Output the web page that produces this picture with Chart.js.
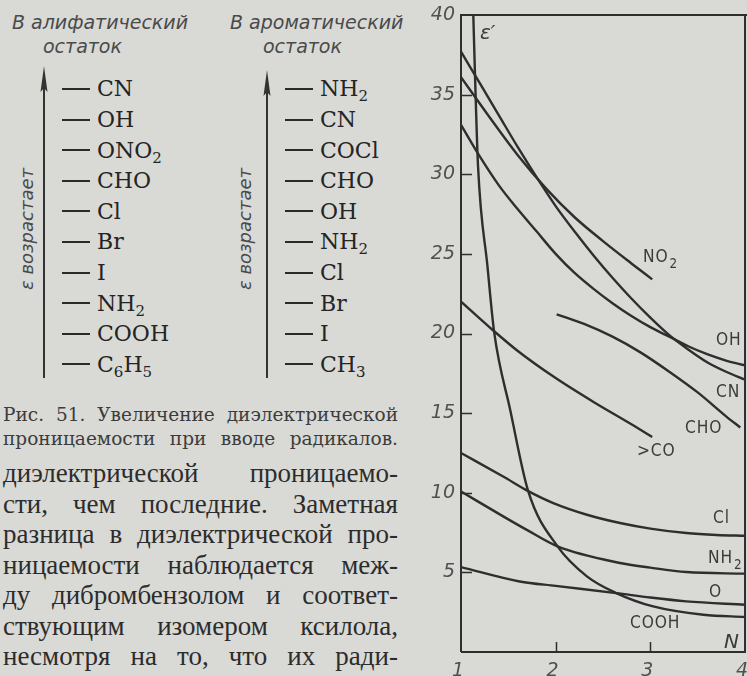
<!DOCTYPE html>
<html>
<head>
<meta charset="utf-8">
<script src="https://cdn.jsdelivr.net/npm/chart.js@4/dist/chart.umd.min.js"></script>
<style>
  html, body { margin: 0; padding: 0; background: #d9d9d5; }
  body { width: 747px; height: 676px; position: relative; overflow: hidden; }
  .hdr { position: absolute; font-family: 'DejaVu Sans', sans-serif; font-style: italic;
         font-size: 19px; line-height: 20px; color: #4a4a4a; white-space: nowrap; }
  .rot { position: absolute; width: 150px; height: 20px; text-align: center;
         font-family: 'DejaVu Sans', sans-serif; font-style: italic; font-size: 18px;
         line-height: 20px; color: #4a4a4a; transform: rotate(-90deg); white-space: nowrap; }
  .item { position: absolute; font-family: 'DejaVu Serif', serif; font-size: 22px;
          line-height: 22px; color: #242424; white-space: nowrap; }
  .item .s { font-size: 15px; position: relative; top: 5px; }
  .dash { position: absolute; width: 28px; height: 2px; background: #2a2a2a; }
  .cap { position: absolute; left: 3px; width: 395px; font-family: 'DejaVu Serif', serif;
         font-size: 18.5px; line-height: 24px; color: #3c3c3c; text-align: justify; text-align-last: justify; }
  .txt { position: absolute; left: 3px; width: 395px; font-family: 'Liberation Serif', serif;
         font-size: 27px; line-height: 30px; color: #2c2c2c; text-align: justify; text-align-last: justify; }
  #plot { position: absolute; left: 420px; top: 0; }
</style>
</head>
<body>

<!-- substituent series, aliphatic and aromatic -->
<div class="hdr" style="left:12px;top:12px">В алифатический</div>
<div class="hdr" style="left:43px;top:36px">остаток</div>
<div class="hdr" style="left:230px;top:12px">В ароматический</div>
<div class="hdr" style="left:263px;top:36px">остаток</div>

<svg style="position:absolute;left:0;top:0" width="420" height="400">
  <line x1="44" y1="84" x2="44" y2="378" stroke="#333" stroke-width="2"/>
  <path d="M44 66 L40.5 92 L44 88 L47.5 92 Z" fill="#333"/>
  <line x1="267" y1="88" x2="267" y2="378" stroke="#333" stroke-width="2"/>
  <path d="M267 70 L263.5 96 L267 92 L270.5 96 Z" fill="#333"/>
</svg>

<div class="rot" style="left:-48px;top:219px">ε возрастает</div>
<div class="rot" style="left:170px;top:219px">ε возрастает</div>

<div id="listL"></div>
<div id="listR"></div>

<div class="cap" style="top:403px">Рис. 51. Увеличение диэлектрической</div>
<div class="cap" style="top:427px">проницаемости при вводе радикалов.</div>

<div class="txt" style="top:458px">диэлектрической проницаемо-</div>
<div class="txt" style="top:488.5px">сти, чем последние. Заметная</div>
<div class="txt" style="top:519px">разница в диэлектрической про-</div>
<div class="txt" style="top:549.5px">ницаемости наблюдается меж-</div>
<div class="txt" style="top:580px">ду дибромбензолом и соответ-</div>
<div class="txt" style="top:610.5px">ствующим изомером ксилола,</div>
<div class="txt" style="top:641px">несмотря на то, что их ради-</div>

<canvas id="plot" width="340" height="676"></canvas>

<script>
// ---- substituent lists (strongest effect at the top) ----
const aliphaticGroups = ['CN', 'OH', 'ONO<span class="s">2</span>', 'CHO', 'Cl', 'Br', 'I',
                         'NH<span class="s">2</span>', 'COOH', 'C<span class="s">6</span>H<span class="s">5</span>'];
const aromaticGroups = ['NH<span class="s">2</span>', 'CN', 'COCl', 'CHO', 'OH',
                        'NH<span class="s">2</span>', 'Cl', 'Br', 'I', 'CH<span class="s">3</span>'];

function buildList(host, groups, dashLeft, textLeft) {
  const el = document.getElementById(host);
  groups.forEach((g, i) => {
    const base = 97 + i * 30.6;
    const d = document.createElement('div');
    d.className = 'dash';
    d.style.left = dashLeft + 'px';
    d.style.top = (base - 9) + 'px';
    el.appendChild(d);
    const t = document.createElement('div');
    t.className = 'item';
    t.style.left = textLeft + 'px';
    t.style.top = (base - 18.6) + 'px';
    t.innerHTML = g;
    el.appendChild(t);
  });
}
buildList('listL', aliphaticGroups, 62, 97);
buildList('listR', aromaticGroups, 285, 320);

// ---- dielectric constant ε' against N ----
const xTicks = [1, 2, 3, 4];
const yTicks = [5, 10, 15, 20, 25, 30, 35, 40];

const no2X  = [1.0, 1.3, 1.6, 1.9, 2.2, 2.5, 2.8, 3.02];
const no2Y  = [36.1, 33.6, 31.2, 29.1, 27.3, 25.8, 24.4, 23.4];

const cnX   = [1.0, 1.2, 1.4, 1.6, 1.8, 2.0, 2.2, 2.4, 2.6, 2.8, 3.0, 3.2, 3.4, 3.6, 3.8, 4.0];
const cnY   = [37.7, 35.7, 33.7, 31.7, 29.8, 28.0, 26.4, 24.9, 23.5, 22.2, 21.0, 19.9, 19.0, 18.2, 17.6, 17.1];

const ohX   = [1.0, 1.2, 1.4, 1.6, 1.8, 2.0, 2.2, 2.4, 2.6, 2.8, 3.0, 3.2, 3.4, 3.6, 3.8, 4.0];
const ohY   = [33.1, 31.1, 29.3, 27.8, 26.4, 25.0, 23.8, 22.8, 21.9, 21.1, 20.4, 19.8, 19.2, 18.7, 18.3, 18.0];

const choX  = [2.01, 2.3, 2.6, 2.9, 3.2, 3.5, 3.8, 3.95];
const choY  = [21.2, 20.6, 19.8, 18.8, 17.6, 16.3, 14.8, 14.1];

const coX   = [1.0, 1.3, 1.6, 2.0, 2.4, 2.8, 3.02];
const coY   = [22.0, 20.4, 18.9, 17.2, 15.7, 14.3, 13.5];

const clX   = [1.0, 1.45, 1.71, 1.975, 2.33, 2.68, 3.0, 3.38, 3.7, 4.0];
const clY   = [12.5, 11.0, 10.1, 9.35, 8.62, 8.1, 7.75, 7.47, 7.35, 7.3];

const nh2X  = [1.0, 1.45, 1.7, 2.02, 2.68, 3.0, 3.38, 4.0];
const nh2Y  = [10.08, 8.5, 7.65, 6.63, 5.59, 5.3, 5.02, 4.92];

const oX    = [1.0, 1.62, 2.0, 2.64, 3.0, 3.38, 4.0];
const oY    = [5.33, 4.43, 4.15, 3.7, 3.42, 3.18, 2.97];

const coohX = [1.13, 1.15, 1.18, 1.28, 1.35, 1.52, 1.71, 2.02, 2.33, 2.64, 3.03, 3.56, 4.0];
const coohY = [40, 35.8, 30.5, 24.2, 20.1, 15.2, 10.1, 6.63, 4.75, 3.7, 2.86, 2.34, 2.2];

const series = [
  ['NO2', no2X, no2Y], ['CN', cnX, cnY], ['OH', ohX, ohY], ['CHO', choX, choY],
  ['>CO', coX, coY], ['Cl', clX, clY], ['NH2', nh2X, nh2Y], ['O', oX, oY], ['COOH', coohX, coohY]
];

// curve labels, anchored in data units (left edge, baseline)
const curveLabels = [
  { text: 'NO', sub: '2', x: 2.922, y: 24.49 },
  { text: 'OH',           x: 3.694, y: 19.28 },
  { text: 'CN',           x: 3.694, y: 16.01 },
  { text: 'CHO',          x: 3.366, y: 13.75 },
  { text: '>CO',          x: 2.859, y: 12.31 },
  { text: 'Cl',           x: 3.662, y: 8.10 },
  { text: 'NH', sub: '2', x: 3.609, y: 5.59 },
  { text: 'O',            x: 3.620, y: 3.45 },
  { text: 'COOH',         x: 2.785, y: 1.51 }
];
const axisLabels = [
  { text: 'ε\u2032', x: 1.20, y: 38.5 },
  { text: 'N',       x: 3.778, y: 0.25 }
];

const INK = '#2e2e2e';
const LABEL_INK = '#3b3b3b';

function squeezedText(ctx, str, px, py, size, squeeze) {
  ctx.save();
  ctx.translate(px, py);
  ctx.scale(squeeze, 1);
  ctx.font = size + 'px "DejaVu Sans", sans-serif';
  ctx.letterSpacing = '1px';
  ctx.fillText(str, 0, 0);
  const w = ctx.measureText(str).width * squeeze;
  ctx.restore();
  return w;
}

const decor = {
  id: 'decor',
  afterDatasetsDraw(chart) {
    const { ctx, chartArea: a, scales: { x, y } } = chart;
    ctx.save();
    ctx.strokeStyle = INK;
    ctx.lineWidth = 2;
    ctx.beginPath();
    ctx.moveTo(a.left, a.bottom); ctx.lineTo(a.left, a.top); ctx.lineTo(chart.width, a.top);
    ctx.moveTo(a.left, a.bottom); ctx.lineTo(a.right, a.bottom); ctx.lineTo(a.right, a.top);
    ctx.stroke();

    // tick marks point into the plot
    ctx.lineWidth = 1.5;
    ctx.beginPath();
    yTicks.forEach(v => {
      if (v >= 40) return;
      const py = Math.round(y.getPixelForValue(v)) + 0.5;
      ctx.moveTo(a.left, py); ctx.lineTo(a.left + 11, py);
    });
    xTicks.forEach(v => {
      if (v <= 1 || v >= 4) return;
      const px = Math.round(x.getPixelForValue(v)) + 0.5;
      ctx.moveTo(px, a.bottom); ctx.lineTo(px, a.bottom - 10);
    });
    ctx.stroke();

    ctx.fillStyle = LABEL_INK;
    ctx.textBaseline = 'alphabetic';
    ctx.textAlign = 'left';
    curveLabels.forEach(l => {
      const px = x.getPixelForValue(l.x), py = y.getPixelForValue(l.y);
      const w = squeezedText(ctx, l.text, px, py, 18, 0.86);
      if (l.sub) squeezedText(ctx, l.sub, px + w + 1, py + 6, 14, 0.86);
    });

    ctx.font = 'italic 20px "DejaVu Sans", sans-serif';
    axisLabels.forEach(l => {
      ctx.fillText(l.text, x.getPixelForValue(l.x), y.getPixelForValue(l.y));
    });
    ctx.restore();
  }
};

const tickFont = { family: '"DejaVu Sans", sans-serif', style: 'italic', size: 19 };

new Chart(document.getElementById('plot'), {
  type: 'line',
  data: {
    datasets: series.map(([name, xs, ys]) => ({
      label: name,
      data: xs.map((v, i) => ({ x: v, y: ys[i] })),
      borderColor: INK,
      borderWidth: 2.4,
      pointRadius: 0,
      fill: false,
      cubicInterpolationMode: 'monotone'
    }))
  },
  options: {
    responsive: false,
    animation: false,
    devicePixelRatio: 1,
    layout: { padding: { top: 15, right: 15, left: 0, bottom: 0 } },
    plugins: { legend: { display: false }, tooltip: { enabled: false } },
    scales: {
      x: {
        type: 'linear', min: 1, max: 4,
        afterBuildTicks: s => { s.ticks = xTicks.map(v => ({ value: v })); },
        afterFit: s => { s.height = 24; s.paddingLeft = 0; s.paddingRight = 0; },
        grid: { display: false, drawTicks: false },
        border: { display: false },
        ticks: { font: tickFont, color: '#505050', padding: 8, autoSkip: false, maxRotation: 0, labelOffset: -3 }
      },
      y: {
        type: 'linear', min: 0, max: 40,
        afterBuildTicks: s => { s.ticks = yTicks.map(v => ({ value: v })); },
        afterFit: s => { s.width = 41; s.paddingTop = 0; s.paddingBottom = 0; },
        grid: { display: false, drawTicks: false },
        border: { display: false },
        ticks: { font: tickFont, color: '#505050', padding: 6, autoSkip: false }
      }
    }
  },
  plugins: [decor]
});
</script>
</body>
</html>
